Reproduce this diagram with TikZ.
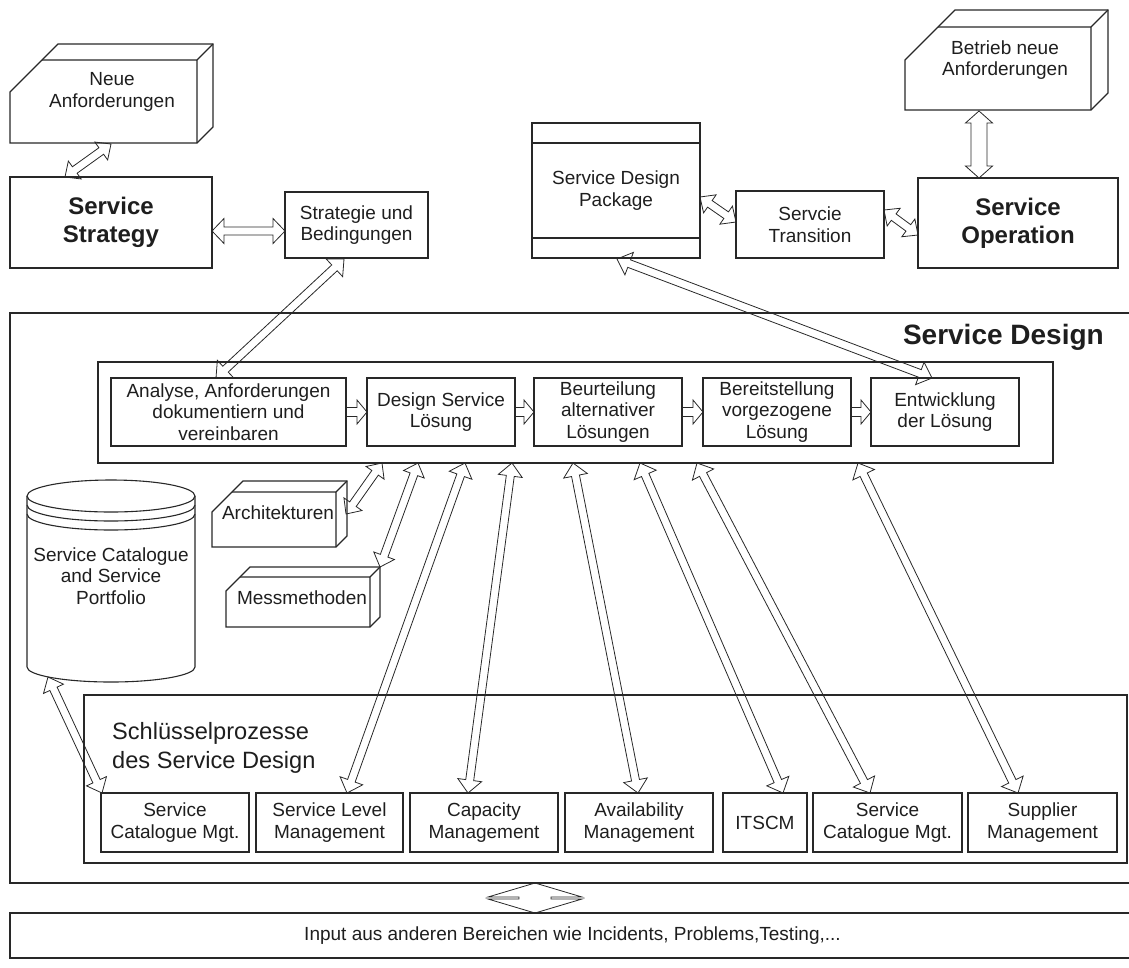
\documentclass[tikz,border=0pt]{standalone}
\usepackage{fontspec}
\setmainfont{Liberation Sans}
\usetikzlibrary{calc}

\definecolor{ln}{RGB}{40,40,40}
\definecolor{txt}{RGB}{30,30,30}

\newcommand\fsn{\fontsize{19}{21.8}\selectfont}
\newcommand\fsb{\fontsize{24}{28}\selectfont\bfseries}
\newcommand\fsd{\fontsize{28}{32}\selectfont\bfseries}
\newcommand\fsk{\fontsize{23.6}{29}\selectfont}

% rectangle node given by its corners: [style]{name}{x1}{y1}{x2}{y2}{text}
\newcommand\pbox[7][]{%
  \node[box,#1,minimum width={(#5-#3)*1pt},minimum height={(#6-#4)*1pt}]
    (#2) at ({(#3+#5)/2},{(#4+#6)/2}) {#7};}

% 3D block with a bevelled corner: {x1}{y1}{x2}{y2}{depth}{cut}
\newcommand\cutbox[6]{%
  \draw[solid3d] (#1,#4) -- (#1,#2+#6) -- (#1+#6+#5,#2-#5) -- (#3+#5,#2-#5)
     -- (#3+#5,#4-#5) -- (#3,#4) -- cycle;
  \draw[solid3d] (#1+#6,#2) -- (#3,#2) -- (#3,#4) (#3,#2) -- (#3+#5,#2-#5);}

% hollow block arrow with two heads: {from}{to}{shaft half width}{head half width}{head length}
\newcommand\dblarrow[5]{%
  \draw[harrow] ($(#1)!#5!(#2)!#3!90:(#2)$) -- ($(#2)!#5!(#1)!#3!-90:(#1)$)
    -- ($(#2)!#5!(#1)!#4!-90:(#1)$) -- (#2) -- ($(#2)!#5!(#1)!#4!90:(#1)$)
    -- ($(#2)!#5!(#1)!#3!90:(#1)$) -- ($(#1)!#5!(#2)!#3!-90:(#2)$)
    -- ($(#1)!#5!(#2)!#4!-90:(#2)$) -- (#1) -- ($(#1)!#5!(#2)!#4!90:(#2)$) -- cycle;}

% hollow block arrow with one head at the second point
\newcommand\onearrow[5]{%
  \draw[harrow] ($(#1)!#3!90:(#2)$) -- ($(#2)!#5!(#1)!#3!-90:(#1)$)
    -- ($(#2)!#5!(#1)!#4!-90:(#1)$) -- (#2) -- ($(#2)!#5!(#1)!#4!90:(#1)$)
    -- ($(#2)!#5!(#1)!#3!90:(#1)$) -- ($(#1)!#3!-90:(#2)$) -- cycle;}

\begin{document}
\begin{tikzpicture}[x=1pt,y=-1pt,
  box/.style={draw=ln,line width=1.3pt,align=center,inner sep=0pt,outer sep=0pt,text=txt,font=\fsn},
  heavy/.style={line width=2.3pt,font=\fsb},
  plain/.style={inner sep=0pt,align=center,text=txt,font=\fsn},
  harrow/.style={draw=ln,line width=0.8pt,line join=miter},
  solid3d/.style={draw=ln,line width=1.1pt,line join=miter}]

\useasboundingbox (0,0) rectangle (1129,967);

% ---------- frames ----------
\pbox[line width=1.5pt]{sd}{10}{313}{1135}{883}{}
\pbox{inp}{10}{913}{1135}{958}{Input aus anderen Bereichen wie Incidents, Problems,Testing,...}
\node[text=txt,font=\fsd,anchor=east,inner sep=0pt] (sdt) at (1104,337) {Service Design};
\pbox{stages}{98}{362}{1053}{463}{}
\pbox{keyp}{84}{695}{1127}{863}{}
\node[plain,align=left,anchor=west,font=\fsk] (kpt) at (112,748) {Schlüsselprozesse\\des Service Design};

% ---------- top row ----------
\cutbox{10}{60}{197}{143}{16}{32}
\node[plain] (na) at (112,92) {Neue\\Anforderungen};
\pbox[heavy]{ss}{10}{177}{212}{268}{Service\\Strategy}
\pbox{sb}{285}{192}{428}{258}{Strategie und\\Bedingungen}
\pbox{sdp}{532}{123}{700}{258}{Service Design\\Package}
\draw[draw=ln,line width=1.1pt] (532,143) -- (700,143) (532,238) -- (700,238);
\pbox{st}{736}{191}{884}{258}{Servcie\\Transition}
\pbox[heavy]{so}{918}{178}{1118}{268}{Service\\Operation}
\cutbox{905}{27}{1091}{110}{17}{33}
\node[plain] (bn) at (1005,60) {Betrieb neue\\Anforderungen};

% ---------- design stages ----------
\pbox{s1}{111}{378}{346}{446}{Analyse, Anforderungen\\dokumentiern und\\vereinbaren}
\pbox{s2}{367}{378}{515}{446}{Design Service\\Lösung}
\pbox{s3}{534}{378}{682}{446}{Beurteilung\\alternativer\\Lösungen}
\pbox{s4}{703}{378}{851}{446}{Bereitstellung\\vorgezogene\\Lösung}
\pbox{s5}{871}{378}{1019}{446}{Entwicklung\\der Lösung}

% ---------- catalogue store ----------
\draw[solid3d] (27,496) -- (27,667)
  arc[start angle=180,end angle=360,x radius=84pt,y radius=15pt] -- (195,496);
\draw[solid3d] (111,496) ellipse[x radius=84pt,y radius=16pt];
\draw[solid3d] (27,505) arc[start angle=180,end angle=360,x radius=84pt,y radius=16pt];
\draw[solid3d] (27,514) arc[start angle=180,end angle=360,x radius=84pt,y radius=16pt];
\node[plain] (cat) at (111,576) {Service Catalogue\\and Service\\Portfolio};

% ---------- inputs to the design ----------
\cutbox{212}{492}{336}{547}{11}{20}
\node[plain] (arch) at (278,513) {Architekturen};
\cutbox{226}{577}{370}{627}{10}{14}
\node[plain] (mess) at (302,598) {Messmethoden};

% ---------- key processes ----------
\pbox{p1}{101}{793}{249}{852}{Service\\Catalogue Mgt.}
\pbox{p2}{256}{793}{403}{852}{Service Level\\Management}
\pbox{p3}{410}{793}{558}{852}{Capacity\\Management}
\pbox{p4}{565}{793}{713}{852}{Availability\\Management}
\pbox{p5}{723}{793}{807}{852}{ITSCM}
\pbox{p6}{813}{793}{962}{852}{Service\\Catalogue Mgt.}
\pbox{p7}{968}{793}{1117}{852}{Supplier\\Management}

% ---------- connector ends ----------
\coordinate (naB) at (111,144);  \coordinate (ssT) at (65,177);
\coordinate (ssR) at (212,231);  \coordinate (sbL) at (285,231);
\coordinate (sbB) at (344,259);  \coordinate (s1T) at (216,378);
\coordinate (sdpR) at (700,197); \coordinate (stL) at (736,222);
\coordinate (stR) at (884,210);  \coordinate (soL) at (918,235);
\coordinate (bnB) at (979,111);  \coordinate (soT) at (979,178);
\coordinate (sdpB) at (617,259); \coordinate (s5T) at (932,378);
\coordinate (g1) at (382,463);   \coordinate (archR) at (346,514);
\coordinate (g2) at (418,463);   \coordinate (messT) at (380,567);
\coordinate (catB) at (48,677);  \coordinate (p1T) at (102,793);
\coordinate (g3) at (465,463);   \coordinate (p2T) at (347,793);
\coordinate (g4) at (512,463);   \coordinate (p3T) at (468,793);
\coordinate (g5) at (573,463);   \coordinate (p4T) at (638,793);
\coordinate (g6) at (640,463);   \coordinate (p5T) at (783,793);
\coordinate (g7) at (697,463);   \coordinate (p6T) at (870,793);
\coordinate (g8) at (858,463);   \coordinate (p7T) at (1018,793);

% ---------- connectors ----------
\dblarrow{naB}{ssT}{4pt}{11pt}{12pt}
\dblarrow{ssR}{sbL}{4pt}{12.5pt}{12pt}
\dblarrow{sbB}{s1T}{4pt}{12pt}{13pt}
\dblarrow{sdpR}{stL}{4pt}{11pt}{12pt}
\dblarrow{stR}{soL}{4pt}{11pt}{12pt}
\dblarrow{bnB}{soT}{8pt}{13.5pt}{12pt}
\dblarrow{sdpB}{s5T}{4pt}{12pt}{13pt}
\dblarrow{g1}{archR}{4pt}{11pt}{12pt}
\dblarrow{g2}{messT}{4pt}{11pt}{12pt}
\dblarrow{catB}{p1T}{4pt}{11pt}{13pt}
\dblarrow{g3}{p2T}{4pt}{12pt}{13pt}
\dblarrow{g4}{p3T}{4pt}{12pt}{13pt}
\dblarrow{g5}{p4T}{4pt}{12pt}{13pt}
\dblarrow{g6}{p5T}{4pt}{12pt}{13pt}
\dblarrow{g7}{p6T}{4pt}{12pt}{13pt}
\dblarrow{g8}{p7T}{4pt}{12pt}{13pt}

\onearrow{s1.east}{s2.west}{4.5pt}{12pt}{10pt}
\onearrow{s2.east}{s3.west}{4.5pt}{12pt}{10pt}
\onearrow{s3.east}{s4.west}{4.5pt}{12pt}{10pt}
\onearrow{s4.east}{s5.west}{4.5pt}{12pt}{10pt}

% exchange between the design frame and the input frame
\draw[harrow,shift={(535,898)}] (0,-15) -- (47,-1) -- (16,-1) -- (16,1) -- (47,1)
  -- (0,15) -- (-47,1) -- (-16,1) -- (-16,-1) -- (-47,-1) -- cycle;

\end{tikzpicture}
\end{document}
